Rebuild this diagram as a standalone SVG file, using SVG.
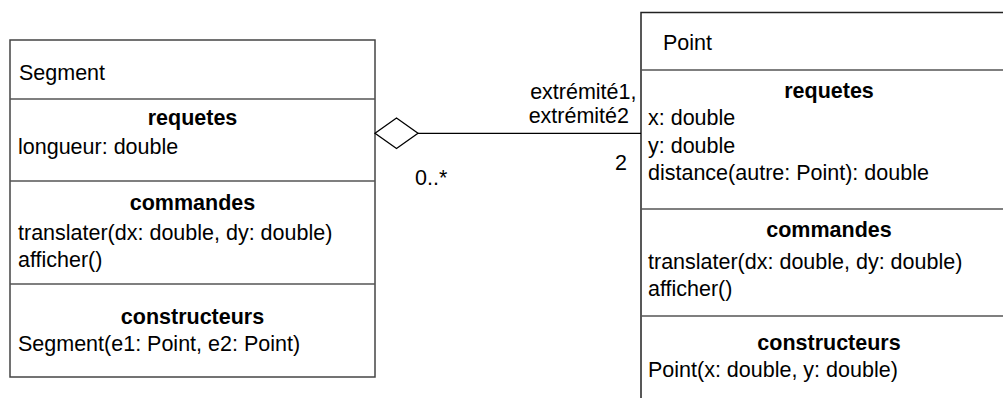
<svg xmlns="http://www.w3.org/2000/svg" width="1003" height="398" viewBox="0 0 1003 398">
<style>
text{font-family:"Liberation Sans",Arial,sans-serif;font-size:21.5px;fill:#000}
.h{font-weight:bold;text-anchor:middle}
.box{fill:#fff;stroke:#444;stroke-width:1.5}
.div{stroke:#555;stroke-width:1.5}
.conn{stroke:#000;stroke-width:1.3;fill:none}
</style>
<rect width="1003" height="398" fill="#fff"/>
<g id="segment">
<rect class="box" x="10" y="40" width="365" height="337"/>
<line class="div" x1="10" y1="99" x2="375" y2="99"/>
<line class="div" x1="10" y1="181" x2="375" y2="181"/>
<line class="div" x1="10" y1="284" x2="375" y2="284"/>
<text x="19" y="80">Segment</text>
<text class="h" x="192.5" y="125">requetes</text>
<text x="18" y="153.5">longueur: double</text>
<text class="h" x="192.5" y="210">commandes</text>
<text x="18" y="240">translater(dx: double, dy: double)</text>
<text x="18" y="267">afficher()</text>
<text class="h" x="192.5" y="323.5">constructeurs</text>
<text x="18" y="350.5">Segment(e1: Point, e2: Point)</text>
</g>
<g id="point">
<rect class="box" x="641" y="12.5" width="380" height="400" style="stroke:#222"/>
<line class="div" x1="641" y1="70" x2="1003" y2="70"/>
<line class="div" x1="641" y1="209" x2="1003" y2="209"/>
<line class="div" x1="641" y1="316" x2="1003" y2="316"/>
<text x="663" y="49.5">Point</text>
<text class="h" x="829" y="97.5">requetes</text>
<text x="648" y="125">x: double</text>
<text x="648" y="152.5">y: double</text>
<text x="648" y="180">distance(autre: Point): double</text>
<text class="h" x="829" y="236.5">commandes</text>
<text x="648" y="268.5">translater(dx: double, dy: double)</text>
<text x="648" y="296">afficher()</text>
<text class="h" x="829" y="350">constructeurs</text>
<text x="648" y="376.5">Point(x: double, y: double)</text>
</g>
<g id="connectors">
<line class="conn" x1="418" y1="133.3" x2="641" y2="133.3"/>
<polygon class="conn" points="375,133.3 396.5,118 418,133.3 396.5,148.5" style="fill:#fff"/>
<text x="636.5" y="99" text-anchor="end">extrémité1,</text>
<text x="629" y="123" text-anchor="end">extrémité2</text>
<text x="627" y="170" text-anchor="end">2</text>
<text x="415" y="185">0..*</text>
</g>
</svg>
